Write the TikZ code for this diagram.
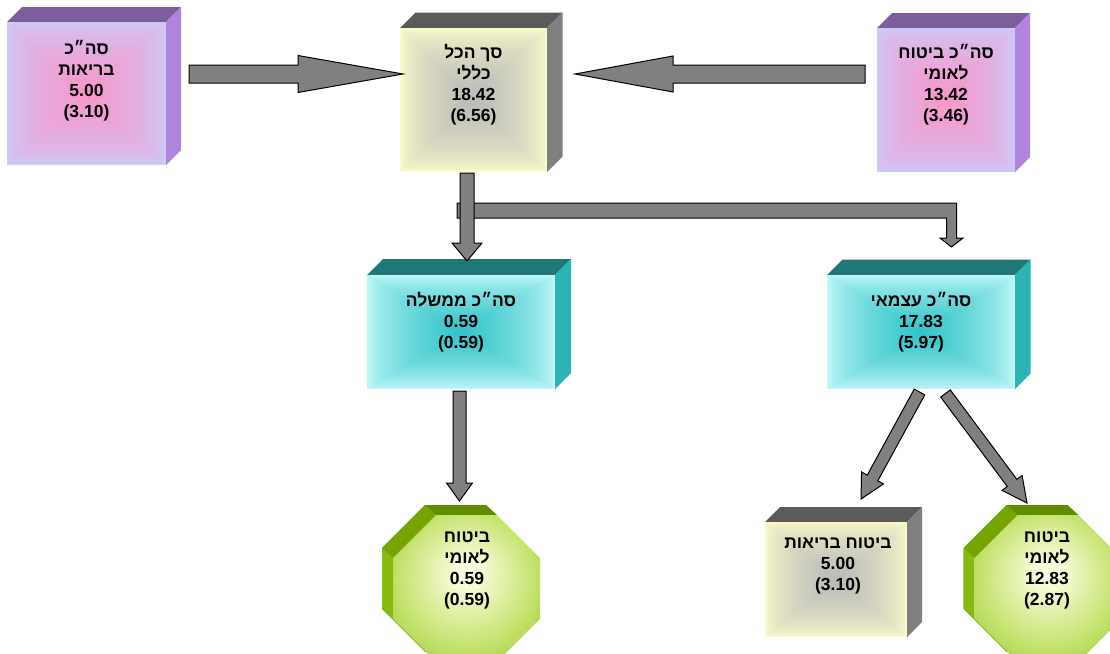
\documentclass[tikz,border=0pt]{standalone}
\usepackage{fontspec}
\newfontfamily\hebfont[Script=Hebrew, UprightFont={Liberation Sans Bold}, BoldFont={Liberation Sans Bold}]{Liberation Sans}
\TeXXeTstate=1
\usetikzlibrary{calc}
\definecolor{purOut}{HTML}{CDC9F9}
\definecolor{purIn}{HTML}{F797C9}
\definecolor{purTop}{HTML}{7B5E9B}
\definecolor{purSide}{HTML}{B084DE}
\definecolor{yelOut}{HTML}{FAFACA}
\definecolor{yelIn}{HTML}{BABABA}
\definecolor{yelTop}{HTML}{5B5B5B}
\definecolor{yelSide}{HTML}{808080}
\definecolor{cyaOut}{HTML}{C4F8F8}
\definecolor{cyaIn}{HTML}{30C4C8}
\definecolor{cyaTop}{HTML}{1F7878}
\definecolor{cyaSide}{HTML}{2BB3B5}
\definecolor{grnIn}{HTML}{F9FCDC}
\definecolor{grnMid}{HTML}{C8E474}
\definecolor{grnOut}{HTML}{8CC21C}
\definecolor{grnTop}{HTML}{5F8D00}
\definecolor{grnDiag}{HTML}{76A402}
\definecolor{grnLeft}{HTML}{86BA10}
\definecolor{arrgray}{HTML}{808080}
\pgfdeclareradialshading{octshade}{\pgfpoint{0bp}{6bp}}{color(0bp)=(grnIn); color(4bp)=(grnIn); color(22bp)=(grnMid); color(40bp)=(grnOut); color(50bp)=(grnOut)}
\newcommand\heb[1]{\beginR#1\endR}
% name, x1, y1, x2, y2, depth, scheme
\newcommand\solidbox[7]{%
  \node[inner sep=0pt, outer sep=0pt, minimum width={#4-#2}, minimum height={#5-#3}] (#1) at ({(#2+#4)/2},{(#3+#5)/2}) {};
  \fill[#7Top] (#1.north west) -- (#1.north east) -- ++(#6,-#6) -- ($(#1.north west)+(#6,-#6)$) -- cycle;
  \fill[#7Side] (#1.north east) -- ++(#6,-#6) -- ($(#1.south east)+(#6,-#6)$) -- (#1.south east) -- cycle;
  \foreach \i in {0,...,39}{%
    \pgfmathsetmacro\gt{\i/40}%
    \pgfmathtruncatemacro\gp{100*(\i/39)^0.65}%
    \fill[#7In!\gp!#7Out] ({#2+\gt*(#4-#2)/2},{#3+\gt*(#5-#3)/2}) rectangle ({#4-\gt*(#4-#2)/2},{#5-\gt*(#5-#3)/2});
  }%
}
% name, cx, cy, width, dx, dy
\newcommand\octa[6]{%
  \pgfmathsetmacro\oh{#4/2}%
  \pgfmathsetmacro\os{#4/2*0.414214}%
  \coordinate (#1) at (#2,#3);
  \coordinate (#1b) at ($(#1)+(-#5,-#6)$);
  \foreach \c in {#1,#1b}{%
    \coordinate (\c-1) at ($(\c)+(-\os,-\oh)$);
    \coordinate (\c-2) at ($(\c)+(\os,-\oh)$);
    \coordinate (\c-3) at ($(\c)+(\oh,-\os)$);
    \coordinate (\c-4) at ($(\c)+(\oh,\os)$);
    \coordinate (\c-5) at ($(\c)+(\os,\oh)$);
    \coordinate (\c-6) at ($(\c)+(-\os,\oh)$);
    \coordinate (\c-7) at ($(\c)+(-\oh,\os)$);
    \coordinate (\c-8) at ($(\c)+(-\oh,-\os)$);
  }
  \fill[grnDiag] (#1b-1) -- (#1b-2) -- (#1b-3) -- (#1b-4) -- (#1b-5) -- (#1b-6) -- (#1b-7) -- (#1b-8) -- cycle;
  \fill[grnTop] (#1b-1) -- (#1b-2) -- (#1-2) -- (#1-1) -- cycle;
  \fill[grnDiag] (#1b-8) -- (#1b-1) -- (#1-1) -- (#1-8) -- cycle;
  \fill[grnLeft] (#1b-7) -- (#1b-8) -- (#1-8) -- (#1-7) -- cycle;
  \shade[shading=octshade] (#1-1) -- (#1-2) -- (#1-3) -- (#1-4) -- (#1-5) -- (#1-6) -- (#1-7) -- (#1-8) -- cycle;
}
% from, to, shaft half width, head half width, head length
\newcommand\blockarrow[5]{%
  \path (#1); \pgfgetlastxy{\baX}{\baY}
  \path (#2); \pgfgetlastxy{\bbX}{\bbY}
  \pgfmathsetmacro\baAng{atan2(\bbY-\baY,\bbX-\baX)}%
  \pgfmathsetmacro\baLen{veclen(\bbX-\baX,\bbY-\baY)}%
  \pgfmathsetmacro\baNeck{\baLen-#5}%
  \draw[arrowsty, shift={(\baX,\baY)}, rotate=\baAng] (0,-#3) -- (\baNeck,-#3) -- (\baNeck,-#4) -- (\baLen,0) -- (\baNeck,#4) -- (\baNeck,#3) -- (0,#3) -- cycle;
}
\begin{document}
\begin{tikzpicture}[x=1pt,y=-1pt,
  arrowsty/.style={fill=arrgray, draw=black, line width=1pt, line join=miter},
  lbl/.style={font=\hebfont\bfseries\fontsize{17.5}{21}\selectfont, align=center, inner sep=0pt, text=black}]
\useasboundingbox (0,0) rectangle (1110,653);
\clip (0,0) rectangle (1110,653);
\fill[white] (0,0) rectangle (1110,653);

% solid boxes
\solidbox{A}{7}{22}{166}{165}{15}{pur}
\solidbox{B}{400}{28}{547}{172}{15.5}{yel}
\solidbox{C}{877}{28}{1015}{172}{15}{pur}
\solidbox{D}{367}{275}{555}{389}{16}{cya}
\solidbox{E}{827}{275}{1015}{389}{15.5}{cya}
\solidbox{H}{765}{522}{907}{637}{15}{yel}
% octagons
\octa{F}{466.5}{588.5}{147}{11}{10}
\octa{G}{1048}{588.5}{147}{11}{10}

% connectors
\coordinate (abS) at ($(A.east)+(23,-19.5)$);
\coordinate (abT) at ($(B.west)+(3,-26)$);
\blockarrow{abS}{abT}{9}{18.5}{105}
\coordinate (cbS) at ($(C.west)+(-12,-26)$);
\coordinate (cbT) at ($(B.east)+(28,-26)$);
\blockarrow{cbS}{cbT}{9}{18}{98}

\coordinate (elS) at ($(B.south)+(-16.5,38.5)$);
\coordinate (elT) at ($(E.north)+(30.5,-28)$);
\draw[arrowsty] ($(elS)+(0,-7.5)$) -- ($(elT |- elS)+(5,-7.5)$) -- ($(elT)+(5,-9)$) -- ($(elT)+(11.5,-9)$) -- (elT) -- ($(elT)+(-11.5,-9)$) -- ($(elT)+(-5,-9)$) -- ($(elT |- elS)+(-5,7.5)$) -- ($(elS)+(0,7.5)$) -- cycle;

\coordinate (bdS) at ($(B.south)+(-6.5,1)$);
\coordinate (bdT) at ($(D.north)+(6,-14)$);
\blockarrow{bdS}{bdT}{7}{15}{18}

\coordinate (dfS) at ($(D.south)+(-1.5,2)$);
\coordinate (dfT) at ($(F-1)!0.5!(F-2)+(-7,-14)$);
\blockarrow{dfS}{dfT}{6.5}{13}{18}

\coordinate (ehS) at ($(E.south)+(-1.5,3)$);
\coordinate (ehT) at ($(H.north)+(25,-23)$);
\blockarrow{ehS}{ehT}{6}{12.5}{24}

\coordinate (egS) at ($(E.south)+(24.5,4.5)$);
\coordinate (egT) at ($(G-1)!0.5!(G-2)+(-21,-12)$);
\blockarrow{egS}{egT}{6}{12.5}{25}

% labels
\node[lbl] (At) at (86.5,81) {\heb{סה״כ}\\\heb{בריאות}\\5.00\\(3.10)};
\node[lbl] (Bt) at (473.5,85) {\heb{סך הכל}\\\heb{כללי}\\18.42\\(6.56)};
\node[lbl] (Ct) at (946,85) {\heb{סה״כ ביטוח}\\\heb{לאומי}\\13.42\\(3.46)};
\node[lbl] (Dt) at (461,322) {\heb{סה״כ ממשלה}\\0.59\\(0.59)};
\node[lbl] (Et) at (921,322) {\heb{סה״כ עצמאי}\\17.83\\(5.97)};
\node[lbl] (Ft) at (467,570) {\heb{ביטוח}\\\heb{לאומי}\\0.59\\(0.59)};
\node[lbl] (Gt) at (1047,570) {\heb{ביטוח}\\\heb{לאומי}\\12.83\\(2.87)};
\node[lbl] (Ht) at (838,566) {\heb{ביטוח בריאות}\\5.00\\(3.10)};
\end{tikzpicture}
\end{document}
